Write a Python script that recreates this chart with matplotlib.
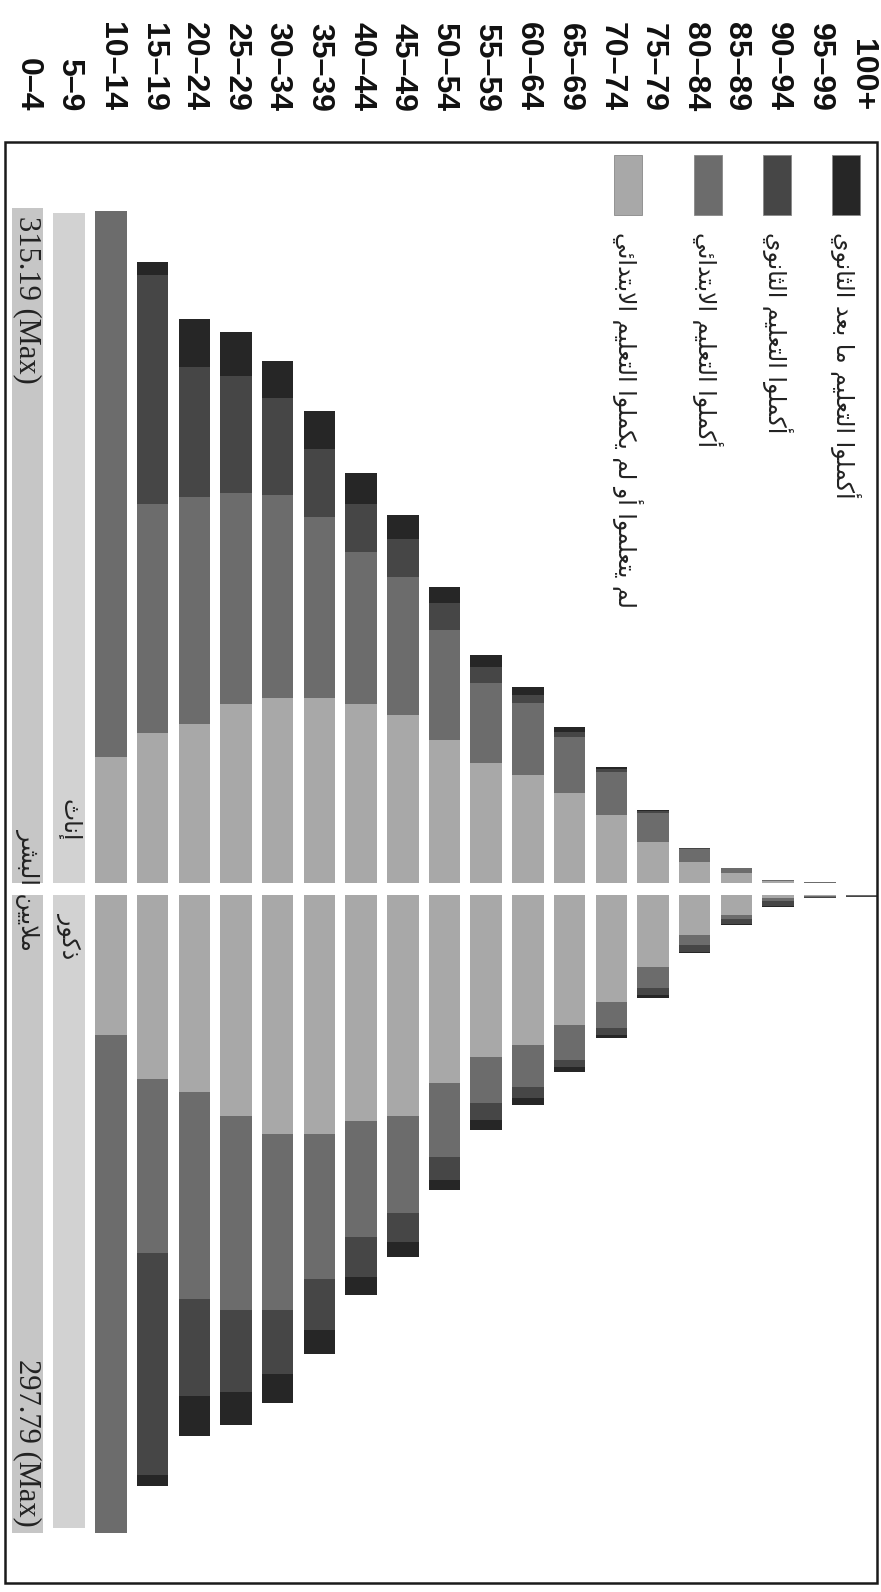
import matplotlib
matplotlib.use("Agg")
import matplotlib.pyplot as plt
from matplotlib.patches import Rectangle
from matplotlib.transforms import blended_transform_factory

# age groups, youngest first (drawn left to right, chart is rotated)
ages = ['0–4', '5–9', '10–14', '15–19', '20–24', '25–29', '30–34', '35–39',
        '40–44', '45–49', '50–54', '55–59', '60–64', '65–69', '70–74',
        '75–79', '80–84', '85–89', '90–94', '95–99', '100+']

# millions of people
female_child = [315.19, 312.6] + [0] * 19
female_none = [0, 0, 58.8, 70.0, 74.2, 83.5, 86.3, 86.3, 83.5, 78.4, 66.7,
               56.0, 50.4, 42.0, 31.7, 19.1, 9.8, 4.7, 1.0, 0.2, 0.03]
female_primary = [0, 0, 254.8, 106.9, 105.9, 98.5, 94.7, 84.5, 70.9, 64.4, 51.3,
                  37.3, 33.6, 26.1, 20.1, 13.5, 6.1, 2.3, 0.4, 0.1, 0.0]
female_secondary = [0, 0, 0, 106.9, 60.7, 54.6, 45.3, 31.7, 22.4, 17.7, 12.6,
                    7.5, 3.7, 2.3, 1.4, 1.0, 0.3, 0.0, 0, 0, 0]
female_tertiary = [0, 0, 0, 6.1, 22.4, 20.5, 17.3, 17.7, 14.5, 11.2, 7.5,
                   5.6, 3.7, 2.3, 0.9, 0.4, 0.1, 0, 0, 0, 0]

male_child = [297.79, 295.4] + [0] * 19
male_none = [0, 0, 65.3, 85.9, 91.9, 103.1, 111.5, 111.5, 105.5, 103.1, 87.7,
             75.6, 70.0, 60.7, 49.9, 33.6, 18.7, 9.3, 1.4, 0.5, 0.2]
male_primary = [0, 0, 232.4, 81.2, 96.6, 90.5, 82.1, 67.7, 54.1, 45.3, 34.5,
                21.5, 19.6, 16.3, 12.1, 9.8, 4.7, 2.0, 1.5, 0.3, 0.3]
male_secondary = [0, 0, 0, 103.6, 45.3, 38.3, 29.9, 23.8, 18.7, 13.5, 10.7,
                  7.9, 5.1, 3.3, 3.3, 3.3, 3.3, 2.3, 2.0, 0.5, 0.2]
male_tertiary = [0, 0, 0, 5.1, 18.7, 15.4, 13.5, 11.2, 8.4, 7.0, 4.7,
                 4.7, 3.3, 2.3, 1.4, 1.4, 0.5, 0.5, 0.5, 0.1, 0.0]

legend_labels = ['أكملوا التعليم ما بعد الثانوي',
                 'أكملوا التعليم الثانوي',
                 'أكملوا التعليم الابتدائي',
                 'لم يتعلموا أو لم يكملوا التعليم الابتدائي']
female_label = 'إناث'
male_label = 'ذكور'
unit_label = 'ملايين البشر'

child_colors = ['#c6c6c6', '#d2d2d2'] + ['#d2d2d2'] * 19
c_none = '#a8a8a8'
c_primary = '#6c6c6c'
c_secondary = '#464646'
c_tertiary = '#262626'

# --- minimal Arabic shaping (matplotlib has no complex text layout) ---
FORMS = {  # isolated, final, initial, medial
    'ا': ('\uFE8D', '\uFE8E', None, None),
    'أ': ('\uFE83', '\uFE84', None, None),
    'إ': ('\uFE87', '\uFE88', None, None),
    'د': ('\uFEA9', '\uFEAA', None, None),
    'ذ': ('\uFEAB', '\uFEAC', None, None),
    'ر': ('\uFEAD', '\uFEAE', None, None),
    'و': ('\uFEED', '\uFEEE', None, None),
    'ب': ('\uFE8F', '\uFE90', '\uFE91', '\uFE92'),
    'ت': ('\uFE95', '\uFE96', '\uFE97', '\uFE98'),
    'ث': ('\uFE99', '\uFE9A', '\uFE9B', '\uFE9C'),
    'ش': ('\uFEB5', '\uFEB6', '\uFEB7', '\uFEB8'),
    'ع': ('\uFEC9', '\uFECA', '\uFECB', '\uFECC'),
    'ك': ('\uFED9', '\uFEDA', '\uFEDB', '\uFEDC'),
    'ل': ('\uFEDD', '\uFEDE', '\uFEDF', '\uFEE0'),
    'م': ('\uFEE1', '\uFEE2', '\uFEE3', '\uFEE4'),
    'ن': ('\uFEE5', '\uFEE6', '\uFEE7', '\uFEE8'),
    'ي': ('\uFEF1', '\uFEF2', '\uFEF3', '\uFEF4'),
    'ئ': ('\uFE89', '\uFE8A', '\uFE8B', '\uFE8C'),
}
LAM_ALEF = {'ا': ('\uFEFB', '\uFEFC'), 'أ': ('\uFEF7', '\uFEF8'), 'إ': ('\uFEF9', '\uFEFA')}


def shape_ar(text):
    chars = list(text)
    n = len(chars)
    res = []
    i = 0
    while i < n:
        c = chars[i]
        if c not in FORMS:
            res.append(c)
            i += 1
            continue
        prev = chars[i - 1] if i > 0 else None
        link_prev = prev in FORMS and FORMS[prev][2] is not None
        if c == 'ل' and i + 1 < n and chars[i + 1] in LAM_ALEF:
            iso, fin = LAM_ALEF[chars[i + 1]]
            res.append(fin if link_prev else iso)
            i += 2
            continue
        nxt = chars[i + 1] if i + 1 < n else None
        link_next = FORMS[c][2] is not None and nxt in FORMS
        iso, fin, ini, med = FORMS[c]
        if link_prev and link_next:
            res.append(med)
        elif link_prev:
            res.append(fin)
        elif link_next:
            res.append(ini)
        else:
            res.append(iso)
        i += 1
    return ''.join(reversed(res))


# --- layout in pixels of the 881x1592 image ---
W, H = 881, 1592
PX_PER_M = 2.143
frame_l, frame_r, frame_t, frame_b = 5, 877, 142, 1583
f_base, m_base = 883, 895

fig = plt.figure(figsize=(W / 100, H / 100), dpi=100)
fig.patch.set_facecolor('white')


def fy(py):
    return (H - py) / H


ax_f = fig.add_axes([frame_l / W, fy(f_base), (frame_r - frame_l) / W, (f_base - frame_t) / H])
ax_m = fig.add_axes([frame_l / W, fy(frame_b), (frame_r - frame_l) / W, (frame_b - m_base) / H])

x = list(range(len(ages)))
pitch = 41.7
xmin = -(27.5 - frame_l) / pitch
xmax = xmin + (frame_r - frame_l) / pitch
bw = 31.5 / pitch


def stack(ax, child, none, prim, sec, ter):
    ax.bar(x, child, bw, color=child_colors, linewidth=0)
    bottom = [0] * len(x)
    for vals, col in [(none, c_none), (prim, c_primary), (sec, c_secondary), (ter, c_tertiary)]:
        ax.bar(x, vals, bw, bottom=bottom, color=col, linewidth=0)
        bottom = [b + v for b, v in zip(bottom, vals)]


stack(ax_f, female_child, female_none, female_primary, female_secondary, female_tertiary)
stack(ax_m, male_child, male_none, male_primary, male_secondary, male_tertiary)

for ax in (ax_f, ax_m):
    ax.set_xlim(xmin, xmax)
    for s in ax.spines.values():
        s.set_visible(False)
    ax.set_facecolor('none')
    ax.set_yticks([])
ax_f.set_ylim(0, (f_base - frame_t) / PX_PER_M)
ax_m.set_ylim((frame_b - m_base) / PX_PER_M, 0)

ax_m.set_xticks([])
ax_f.set_xticks(x)
ax_f.set_xticklabels(ages, rotation=-90, fontsize=23, fontweight='bold',
                     family='Liberation Sans', color='#111111')
ax_f.tick_params(axis='x', top=True, labeltop=True, bottom=False, labelbottom=False,
                 length=0, pad=22)

# frame
fig.patches.append(Rectangle((frame_l / W, fy(frame_b)), (frame_r - frame_l) / W,
                             (frame_b - frame_t) / H, transform=fig.transFigure,
                             fill=False, edgecolor='#1a1a1a', linewidth=1.8))

# max labels
f_max = max(female_child)
m_max = max(male_child)
ax_f.annotate(f'{f_max:.2f} (Max)', xy=(female_child.index(f_max), f_max),
              xytext=(0, -8), textcoords='offset pixels', rotation=-90,
              ha='center', va='top', fontsize=22, family='Liberation Serif', color='#222222')
ax_m.annotate(f'{m_max:.2f} (Max)', xy=(male_child.index(m_max), m_max),
              xytext=(0, 6), textcoords='offset pixels', rotation=-90,
              ha='center', va='bottom', fontsize=22, family='Liberation Serif', color='#222222')

# sex / unit labels
ar_font = ['DejaVu Sans']
ax_f.annotate(shape_ar(female_label), xy=(1, 0), xytext=(0, 42), textcoords='offset pixels',
              rotation=-90, ha='center', va='bottom', fontsize=17, family=ar_font, color='#222222')
ax_m.annotate(shape_ar(male_label), xy=(1, 0), xytext=(0, -18), textcoords='offset pixels',
              rotation=-90, ha='center', va='top', fontsize=17, family=ar_font, color='#222222')
tr = blended_transform_factory(ax_f.transData, fig.transFigure)
fig.text(0, fy((f_base + m_base) / 2), shape_ar(unit_label), transform=tr, rotation=-90,
         ha='center', va='center', fontsize=17, family=ar_font, color='#222222')

# legend (rotated with the chart)
leg_x = [846, 777, 708, 628]
leg_cols = [c_tertiary, c_secondary, c_primary, c_none]
for lx, col, lab in zip(leg_x, leg_cols, legend_labels):
    fig.patches.append(Rectangle(((lx - 14) / W, fy(215)), 28 / W, 60 / H,
                                 transform=fig.transFigure, facecolor=col,
                                 edgecolor='#888888', linewidth=0.6))
    fig.text(lx / W, fy(232), shape_ar(lab), rotation=-90, ha='center', va='top',
             fontsize=17, family=ar_font, color='#222222')

fig.savefig('out.png', dpi=100, facecolor='white')
